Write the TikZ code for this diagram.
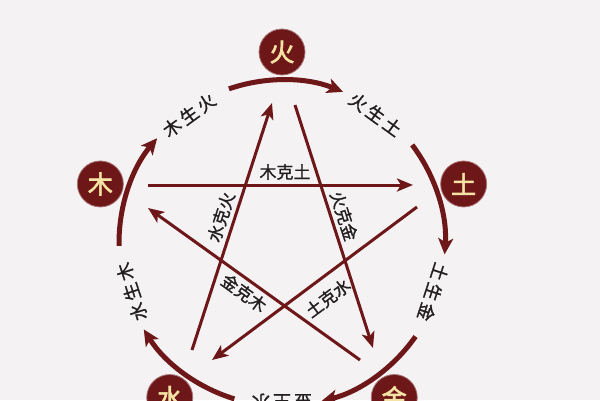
\documentclass[tikz,border=0pt]{standalone}
\usepackage{fontspec}
\setmainfont{Noto Sans CJK SC}
\newfontfamily\cjkmed[FakeBold=1.2]{Noto Sans CJK SC}
\newfontfamily\cjkbold[FakeBold=2.5]{Noto Sans CJK SC}
\usetikzlibrary{arrows.meta,calc}
\definecolor{maroon}{HTML}{6E1719}
\definecolor{bg}{HTML}{F4F2F3}
\definecolor{gold}{HTML}{F4E3A4}
\definecolor{ink}{HTML}{221E1F}
\newcommand{\gp}{\hspace{3pt}}
\begin{document}
\begin{tikzpicture}[x=1pt,y=1pt,
  elem/.style={circle,fill=maroon,draw=maroon!60,line width=0.8pt,minimum size=46pt,inner sep=0pt,text=gold,font=\cjkbold\fontsize{25}{25}\selectfont},
  cyc/.style={draw=maroon,line width=5pt,-{Stealth[length=16pt,width=15pt,inset=4pt]}},
  ke/.style={draw=maroon,line width=3pt,-{Stealth[length=16pt,width=13pt,inset=4pt]}},
  shenglab/.style={font=\cjkmed\fontsize{18}{18}\selectfont,text=ink,inner sep=1pt},
  kelab/.style={font=\cjkmed\fontsize{17}{17}\selectfont,text=ink,inner sep=1pt}]
\useasboundingbox (0,0) rectangle (600,400);
\clip (0,0) rectangle (600,400);
\fill[bg] (0,0) rectangle (600,400);
\coordinate (C) at (282,157);
% element nodes
\node[elem] (huo) at ($(C)+(90:191)$) {火};
\node[elem] (tu)  at ($(C)+(18:191)$) {土};
\node[elem] (jin) at ($(C)+(-54:191)$) {金};
\node[elem] (shui) at ($(C)+(-126:191)$) {水};
\node[elem] (mu)  at ($(C)+(162:191)$) {木};
% generating cycle arcs
\draw[cyc] ($(C)+(109:163)$) arc[start angle=109,end angle=68,radius=163pt];
\draw[cyc] ($(C)+(37:163)$) arc[start angle=37,end angle=-4,radius=163pt];
\draw[cyc] ($(C)+(-35:163)$) arc[start angle=-35,end angle=-76,radius=163pt];
\draw[cyc] ($(C)+(-107:163)$) arc[start angle=-107,end angle=-148,radius=163pt];
\draw[cyc] ($(C)+(-179:163)$) arc[start angle=-179,end angle=-220,radius=163pt];
% generating labels
\node[shenglab,rotate=36] (s1) at ($(C)+(126:158)$) {木\gp 生\gp 火};
\node[shenglab,rotate=-36] (s2) at ($(C)+(54:159)$) {火\gp 生\gp 土};
\node[shenglab,rotate=-108] (s3) at ($(C)+(-18:159)$) {土\gp 生\gp 金};
\node[shenglab,rotate=180] (s4) at ($(C)+(-90:159)$) {金\gp 生\gp 水};
\node[shenglab,rotate=108] (s5) at ($(C)+(-162:158)$) {水\gp 生\gp 木};
% controlling star
\coordinate (k1s) at (148,215); \coordinate (k1e) at (413,215);
\coordinate (k2s) at (295,295); \coordinate (k2e) at (373,52);
\coordinate (k3s) at (417,193); \coordinate (k3e) at (212,40);
\coordinate (k4s) at (192,50);  \coordinate (k4e) at (272,297);
\coordinate (k5s) at (360,40);  \coordinate (k5e) at (148,192);
\draw[ke] (k1s) -- (k1e);
\draw[ke] (k2s) -- (k2e);
\draw[ke] (k3s) -- (k3e);
\draw[ke] (k4s) -- (k4e);
\draw[ke] (k5s) -- (k5e);
\node[kelab] (c1) at (285,228) {木克土};
\node[kelab,rotate=-72] (c2) at (344,184) {火克金};
\node[kelab,rotate=36.7] (c3) at (328,102) {土克水};
\node[kelab,rotate=72] (c4) at (221,183) {水克火};
\node[kelab,rotate=-36] (c5) at (244,107) {金克木};
\end{tikzpicture}
\end{document}
